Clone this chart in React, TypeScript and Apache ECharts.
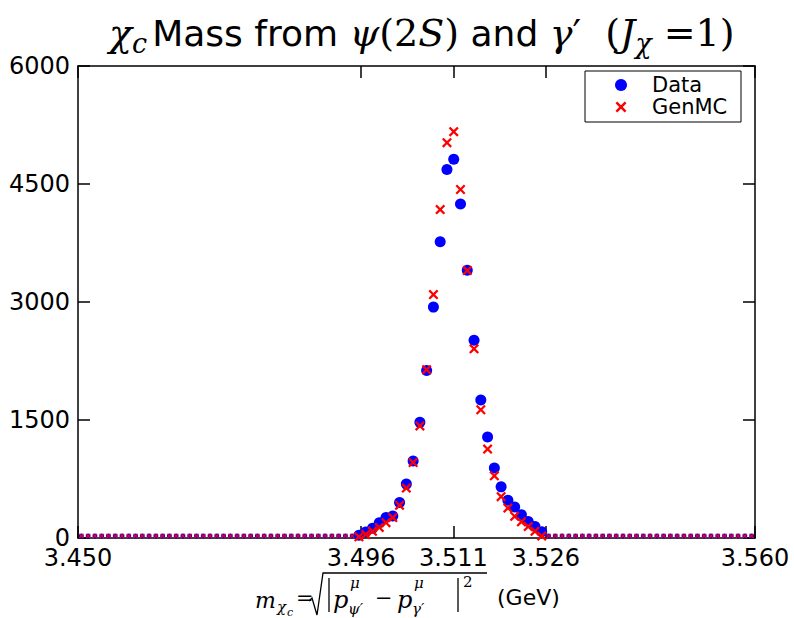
import React, { useEffect, useRef } from "react";
import * as echarts from "echarts";

// Histogram binning (100 bins from 3.450 to 3.560 GeV)
const binStart = 3.45;
const binWidth = 0.0011;

// Counts per bin
const dataCounts = [
  0, 0, 0, 0, 0, 0, 0, 0, 0, 0,
  0, 0, 0, 0, 0, 0, 0, 0, 0, 0,
  0, 0, 0, 0, 0, 0, 0, 0, 0, 0,
  0, 0, 0, 0, 0, 0, 0, 0, 0, 0,
  0, 35, 75, 125, 195, 260, 280, 450, 685, 980,
  1470, 2130, 2935, 3765, 4685, 4815, 4245, 3405, 2515, 1755,
  1285, 890, 650, 480, 395, 295, 210, 145, 80, 0,
  0, 0, 0, 0, 0, 0, 0, 0, 0, 0,
  0, 0, 0, 0, 0, 0, 0, 0, 0, 0,
  0, 0, 0, 0, 0, 0, 0, 0, 0, 0,
];

const genMCCounts = [
  0, 0, 0, 0, 0, 0, 0, 0, 0, 0,
  0, 0, 0, 0, 0, 0, 0, 0, 0, 0,
  0, 0, 0, 0, 0, 0, 0, 0, 0, 0,
  0, 0, 0, 0, 0, 0, 0, 0, 0, 0,
  0, 15, 45, 85, 135, 195, 260, 415, 635, 960,
  1425, 2140, 3095, 4175, 5025, 5165, 4430, 3400, 2405, 1630,
  1130, 790, 525, 380, 275, 205, 145, 85, 25, 0,
  0, 0, 0, 0, 0, 0, 0, 0, 0, 0,
  0, 0, 0, 0, 0, 0, 0, 0, 0, 0,
  0, 0, 0, 0, 0, 0, 0, 0, 0, 0,
];

const seriesNames = ["Data", "GenMC"];
const seriesColors = ["#0000ff", "#ff0000"];
const xTickValues = [3.45, 3.496, 3.511, 3.526, 3.56];
const xMin = 3.45;
const xMax = 3.56;
const yMin = 0;
const yMax = 6000;
const yInterval = 1500;

const CROSS_PTS = [
  [0, 1.6], [1.6, 0], [5, 3.4], [8.4, 0], [10, 1.6], [6.6, 5],
  [10, 8.4], [8.4, 10], [5, 6.6], [1.6, 10], [0, 8.4], [3.4, 5],
];
const CROSS = "path://M" + CROSS_PTS.map((p) => p.join(",")).join("L") + "Z";

const SANS = "DejaVu Sans";
const SERIF = "DejaVu Serif";

function toPoints(arr: number[]) {
  return arr.map((v, i) => {
    const x = binStart + binWidth * (i + 0.5);
    if (v === 0) {
      return { value: [x, 0], symbolSize: 5, symbolOffset: [0, -2] };
    }
    return { value: [x, v] };
  });
}

export default function App() {
  const ref = useRef<HTMLDivElement>(null);

  useEffect(() => {
    if (!ref.current) return;
    const chart = echarts.init(ref.current, null, { renderer: "svg" });

    const axisLineStyle = { color: "#000", width: 1.5 };
    const mathText = (
      text: string,
      x: number,
      y: number,
      size: number,
      italic = true,
      family = SERIF
    ) => ({
      type: "text",
      x,
      y,
      style: {
        text,
        fill: "#000",
        font: `${italic ? "italic " : ""}${size}px "${family}"`,
        textVerticalAlign: "middle",
        textAlign: "left",
      },
    });

    // legend drawn by hand (box, markers, labels)
    const lgX = 585;
    const lgY = 71;
    const lgRowY = [85, 107];
    const lgMarkX = 621;
    const crossLegend = CROSS_PTS.map(([px, py]) => [
      lgMarkX + (px - 5) * 1.1,
      lgRowY[1] + (py - 5) * 1.1,
    ]);

    chart.setOption({
      animation: false,
      backgroundColor: "#fff",
      title: {
        left: 104,
        top: 4,
        text:
          "{mi|χ}{sub|c} {t|Mass from }{mi|ψ}{mr|(2}{mi|S}{mr|)}{t| and }{mi|γ}{mr|′  (}{mi|J}{sub|χ}{mr| =1)}",
        textStyle: {
          fontWeight: "normal",
          rich: {
            t: {
              fontFamily: SANS,
              fontSize: 36,
              fontWeight: "normal",
              color: "#000",
              lineHeight: 48,
            },
            mi: {
              fontFamily: SERIF,
              fontStyle: "italic",
              fontWeight: "normal",
              fontSize: 38,
              color: "#000",
              lineHeight: 48,
            },
            mr: {
              fontFamily: SERIF,
              fontWeight: "normal",
              fontSize: 38,
              color: "#000",
              lineHeight: 48,
            },
            sub: {
              fontFamily: SERIF,
              fontStyle: "italic",
              fontWeight: "normal",
              fontSize: 27,
              color: "#000",
              lineHeight: 27,
              padding: [21, 0, 0, 0],
            },
          },
        },
      },
      grid: { left: 78, right: 39, top: 66, bottom: 80, containLabel: false },
      xAxis: [
        {
          type: "value",
          min: xMin,
          max: xMax,
          position: "bottom",
          axisLine: { show: true, onZero: false, lineStyle: axisLineStyle },
          axisTick: {
            show: true,
            inside: true,
            length: 12,
            customValues: xTickValues,
            lineStyle: axisLineStyle,
          },
          axisLabel: {
            customValues: xTickValues,
            formatter: (v: number) => v.toFixed(3),
            fontSize: 24,
            fontFamily: SANS,
            color: "#000",
            margin: 8,
          },
          splitLine: { show: false },
        },
        {
          type: "value",
          min: xMin,
          max: xMax,
          position: "top",
          axisLine: { show: true, onZero: false, lineStyle: axisLineStyle },
          axisTick: {
            show: true,
            inside: true,
            length: 12,
            customValues: xTickValues,
            lineStyle: axisLineStyle,
          },
          axisLabel: { show: false },
          splitLine: { show: false },
        },
      ],
      yAxis: [
        {
          type: "value",
          min: yMin,
          max: yMax,
          interval: yInterval,
          position: "left",
          axisLine: { show: true, onZero: false, lineStyle: axisLineStyle },
          axisTick: { show: true, inside: true, length: 12, lineStyle: axisLineStyle },
          axisLabel: {
            formatter: (v: number) => String(v),
            fontSize: 24,
            fontFamily: SANS,
            color: "#000",
            margin: 8,
          },
          splitLine: { show: false },
        },
        {
          type: "value",
          min: yMin,
          max: yMax,
          interval: yInterval,
          position: "right",
          axisLine: { show: true, onZero: false, lineStyle: axisLineStyle },
          axisTick: { show: true, inside: true, length: 12, lineStyle: axisLineStyle },
          axisLabel: { show: false },
          splitLine: { show: false },
        },
      ],
      series: [
        {
          name: seriesNames[0],
          type: "scatter",
          symbol: "circle",
          symbolSize: 11,
          itemStyle: { color: seriesColors[0], opacity: 1 },
          data: toPoints(dataCounts),
          z: 3,
        },
        {
          name: seriesNames[1],
          type: "scatter",
          symbol: CROSS,
          symbolSize: 10,
          itemStyle: { color: seriesColors[1], opacity: 1 },
          data: toPoints(genMCCounts),
          z: 4,
        },
      ],
      graphic: [
        // legend
        {
          type: "rect",
          shape: { x: lgX, y: lgY, width: 156, height: 51 },
          style: { fill: "#fff", stroke: "#000", lineWidth: 1 },
          z: 10,
        },
        {
          type: "circle",
          shape: { cx: lgMarkX, cy: lgRowY[0], r: 6 },
          style: { fill: seriesColors[0] },
          z: 11,
        },
        {
          type: "polygon",
          shape: { points: crossLegend },
          style: { fill: seriesColors[1] },
          z: 11,
        },
        {
          type: "text",
          x: 652,
          y: lgRowY[0],
          z: 11,
          style: {
            text: seriesNames[0],
            fill: "#000",
            font: `21px "${SANS}"`,
            textVerticalAlign: "middle",
          },
        },
        {
          type: "text",
          x: 652,
          y: lgRowY[1],
          z: 11,
          style: {
            text: seriesNames[1],
            fill: "#000",
            font: `21px "${SANS}"`,
            textVerticalAlign: "middle",
          },
        },
        // x-axis title (math)
        mathText("m", 255, 600, 22),
        mathText("χ", 277, 607, 15),
        mathText("c", 287, 612, 11),
        mathText("=", 296, 598, 21, false),
        {
          type: "polyline",
          shape: {
            points: [
              [309, 601],
              [312, 598],
              [317, 615],
              [323, 573],
              [487, 573],
            ],
          },
          style: { stroke: "#000", lineWidth: 1.3, fill: "none" },
        },
        {
          type: "line",
          shape: { x1: 329, y1: 578, x2: 329, y2: 612 },
          style: { stroke: "#000", lineWidth: 1.3 },
        },
        mathText("p", 333, 600, 24),
        mathText("μ", 350, 583, 15),
        mathText("ψ′", 348, 609, 15),
        mathText("−", 375, 598, 21, false),
        mathText("p", 397, 600, 24),
        mathText("μ", 414, 583, 15),
        mathText("γ′", 412, 609, 15),
        {
          type: "line",
          shape: { x1: 458, y1: 578, x2: 458, y2: 612 },
          style: { stroke: "#000", lineWidth: 1.3 },
        },
        mathText("2", 463, 582, 15, false),
        mathText("(GeV)", 497, 597, 22, false, SANS),
      ],
    });

    return () => chart.dispose();
  }, []);

  return (
    <div
      ref={ref}
      style={{ position: "fixed", left: 0, top: 0, width: 794, height: 618 }}
    />
  );
}
